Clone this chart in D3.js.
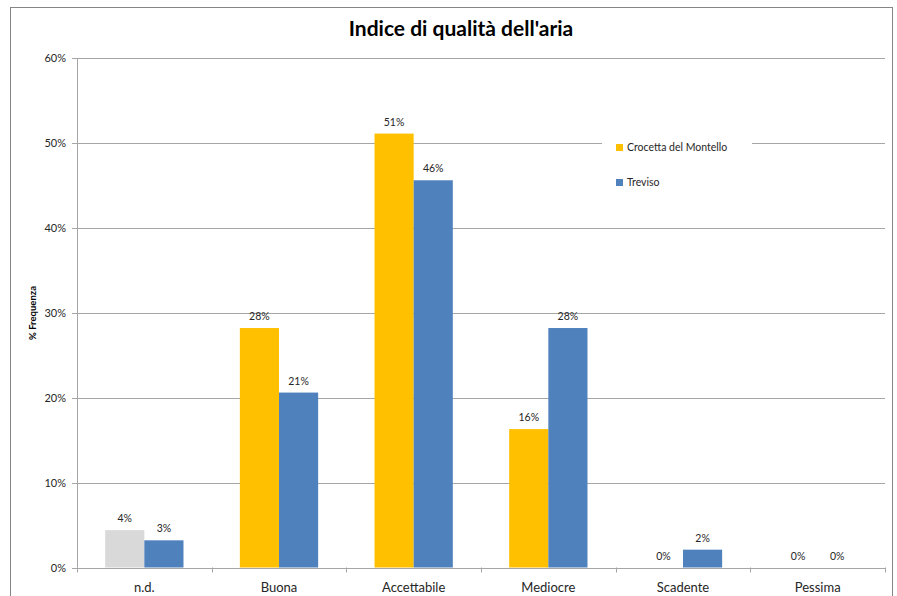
<!DOCTYPE html>
<html>
<head>
<meta charset="utf-8">
<script src="https://cdn.jsdelivr.net/npm/d3@7"></script>
<style>
  body { margin: 0; background: #fff; }
  text { font-family: Lato, "Open Sans", sans-serif; fill: #262626; }
</style>
</head>
<body>
<div id="chart"></div>
<script>
const categories = ['n.d.', 'Buona', 'Accettabile', 'Mediocre', 'Scadente', 'Pessima']
const seriesNames = ['Crocetta del Montello', 'Treviso']
const crocetta = [4.4, 28.2, 51.1, 16.3, 0, 0]
const treviso = [3.2, 20.6, 45.6, 28.2, 2.1, 0]
const yTicks = [0, 10, 20, 30, 40, 50, 60]
const colors = ['#FFC000', '#4F81BD']
const ndColor = '#D9D9D9'

const w = 897, h = 596
const m = { left: 77, right: 12, top: 58, bottom: 28 }

const svg = d3.select('#chart')
    .append('svg')
    .attr('width', w)
    .attr('height', h)

// outer chart frame
svg.append('rect')
    .attr('x', 10.5).attr('y', 7.5)
    .attr('width', 882).attr('height', 600)
    .attr('fill', 'none')
    .attr('stroke', '#868686')

const x = d3.scaleBand()
    .domain(categories)
    .range([m.left, w - m.right])
    .paddingInner(0)
const xs = d3.scaleBand()
    .domain(seriesNames)
    .range([0, x.bandwidth()])
    .paddingOuter(0.72)
    .paddingInner(0)
const y = d3.scaleLinear()
    .domain([0, 60])
    .range([h - m.bottom - 0.5, m.top])

// gridlines
svg.append('g')
    .selectAll('line')
    .data(yTicks)
    .enter()
    .append('line')
    .attr('x1', m.left - 5)
    .attr('x2', w - m.right)
    .attr('y1', d => Math.round(y(d)) + 0.5)
    .attr('y2', d => Math.round(y(d)) + 0.5)
    .attr('stroke', '#A6A6A6')

// y axis line
svg.append('line')
    .attr('x1', m.left + 0.5).attr('x2', m.left + 0.5)
    .attr('y1', y(60)).attr('y2', y(0))
    .attr('stroke', '#A6A6A6')

svg.append('g')
    .selectAll('text')
    .data(yTicks)
    .enter()
    .append('text')
    .attr('x', m.left - 11)
    .attr('y', d => y(d) + 4)
    .style('text-anchor', 'end')
    .style('font-size', '11px')
    .text(d => d + '%')

// x ticks
const xTickPos = categories.map(c => x(c)).concat([x.range()[1]])
svg.append('g')
    .selectAll('line')
    .data(xTickPos)
    .enter()
    .append('line')
    .attr('x1', d => Math.round(d) + 0.5)
    .attr('x2', d => Math.round(d) + 0.5)
    .attr('y1', y(0))
    .attr('y2', y(0) + 5)
    .attr('stroke', '#A6A6A6')

svg.append('g')
    .selectAll('text')
    .data(categories)
    .enter()
    .append('text')
    .attr('x', d => x(d) + x.bandwidth() / 2)
    .attr('y', y(0) + 24)
    .style('text-anchor', 'middle')
    .style('font-size', '13px')
    .text(d => d)

// bars
const series = [crocetta, treviso]
series.forEach((vals, si) => {
    const g = svg.append('g')
    g.selectAll('rect')
        .data(vals)
        .enter()
        .append('rect')
        .attr('x', (d, i) => x(categories[i]) + xs(seriesNames[si]))
        .attr('y', d => y(d))
        .attr('width', xs.bandwidth())
        .attr('height', d => y(0) - y(d))
        .attr('fill', (d, i) => (si === 0 && i === 0) ? ndColor : colors[si])
    g.selectAll('text')
        .data(vals)
        .enter()
        .append('text')
        .attr('x', (d, i) => x(categories[i]) + xs(seriesNames[si]) + xs.bandwidth() / 2)
        .attr('y', d => y(d) - 8)
        .style('text-anchor', 'middle')
        .style('font-size', '10.5px')
        .text(d => Math.round(d) + '%')
})

// legend
const lg = svg.append('g').attr('transform', 'translate(602, 130)')
lg.append('rect')
    .attr('width', 150).attr('height', 66)
    .attr('fill', '#fff')
seriesNames.forEach((s, i) => {
    lg.append('rect')
        .attr('x', 14).attr('y', 14 + i * 35)
        .attr('width', 7).attr('height', 7)
        .attr('fill', colors[i])
    lg.append('text')
        .attr('x', 25).attr('y', 21 + i * 35)
        .style('font-size', '10.5px')
        .text(s)
})

// titles
svg.append('text')
    .attr('x', 461)
    .attr('y', 36)
    .style('text-anchor', 'middle')
    .style('font-size', '21px')
    .style('font-weight', 'bold')
    .style('fill', '#000')
    .text("Indice di qualità dell'aria")

svg.append('text')
    .attr('transform', 'rotate(-90)')
    .attr('x', -313)
    .attr('y', 36)
    .style('text-anchor', 'middle')
    .style('font-size', '9.5px')
    .style('font-weight', 'bold')
    .style('fill', '#000')
    .text('% Frequenza')
</script>
</body>
</html>
